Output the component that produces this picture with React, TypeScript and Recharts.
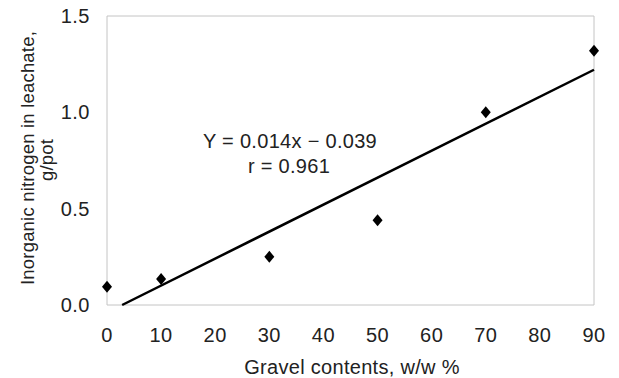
import { ScatterChart, Scatter, XAxis, YAxis, ReferenceArea, Label } from 'recharts'

const gravel = [0, 10, 30, 50, 70, 90]
const nitrogen = [0.095, 0.135, 0.25, 0.44, 1.0, 1.32]
const fitX = [2.8, 90]
const fitY = [0, 1.221]
const xTicks = [0, 10, 20, 30, 40, 50, 60, 70, 80, 90]
const yTicks = [0, 0.5, 1.0, 1.5]

const points = gravel.map((x, i) => ({ x, y: nitrogen[i] }))
const fitLine = fitX.map((x, i) => ({ x, y: fitY[i] }))

const FONT = '"Liberation Sans", Arial, sans-serif'
const INK = '#222'

const Diamond = (props: any) => {
  const { cx, cy } = props
  if (cx == null || cy == null) return null
  return <polygon points={`${cx},${cy - 6} ${cx + 5},${cy} ${cx},${cy + 6} ${cx - 5},${cy}`} fill="#000" />
}

export default function App() {
  return (
    <div style={{ position: 'absolute', left: 0, top: 0, background: '#fff' }}>
      <ScatterChart width={619} height={378} margin={{ top: 16, right: 25, bottom: 43, left: 67 }}>
        <ReferenceArea x1={0} x2={90} y1={0} y2={1.5} fill="none" stroke="#c4c4c4" strokeWidth={1} ifOverflow="visible" />
        <XAxis
          type="number"
          dataKey="x"
          domain={[0, 90]}
          ticks={xTicks}
          axisLine={false}
          tickLine={false}
          tickSize={0}
          tickMargin={23}
          height={30}
          tick={{ fontSize: 20, fill: INK, fontFamily: FONT, letterSpacing: 0.5 }}
        >
          <Label
            content={() => (
              <text x={352} y={374} textAnchor="middle" fontSize={20} fill={INK} fontFamily={FONT} letterSpacing={0.3}>
                Gravel contents, w/w %
              </text>
            )}
          />
        </XAxis>
        <YAxis
          type="number"
          dataKey="y"
          domain={[0, 1.5]}
          ticks={yTicks}
          tickFormatter={(v) => v.toFixed(1)}
          axisLine={false}
          tickLine={false}
          tickSize={0}
          tickMargin={17}
          width={40}
          tick={{ fontSize: 20, fill: INK, fontFamily: FONT, letterSpacing: 0.5 }}
        >
          <Label
            content={() => (
              <g fontSize={18.5} fill={INK} fontFamily={FONT} letterSpacing={0.2}>
                <text x={27} y={158} transform="rotate(-90, 27, 158)" textAnchor="middle" dominantBaseline="central">
                  Inorganic nitrogen in leachate,
                </text>
                <text x={46} y={160} transform="rotate(-90, 46, 160)" textAnchor="middle" dominantBaseline="central">
                  g/pot
                </text>
              </g>
            )}
          />
        </YAxis>
        <Scatter data={fitLine} line={{ stroke: '#000', strokeWidth: 2.5 }} shape={() => null} isAnimationActive={false} />
        <Scatter data={points} shape={Diamond} isAnimationActive={false} />
        <Label
          content={() => (
            <g fontSize={20} fill={INK} fontFamily={FONT} letterSpacing={0.3}>
              <text x={290} y={148} textAnchor="middle">Y = 0.014x − 0.039</text>
              <text x={289} y={173} textAnchor="middle">r = 0.961</text>
            </g>
          )}
        />
      </ScatterChart>
    </div>
  )
}
